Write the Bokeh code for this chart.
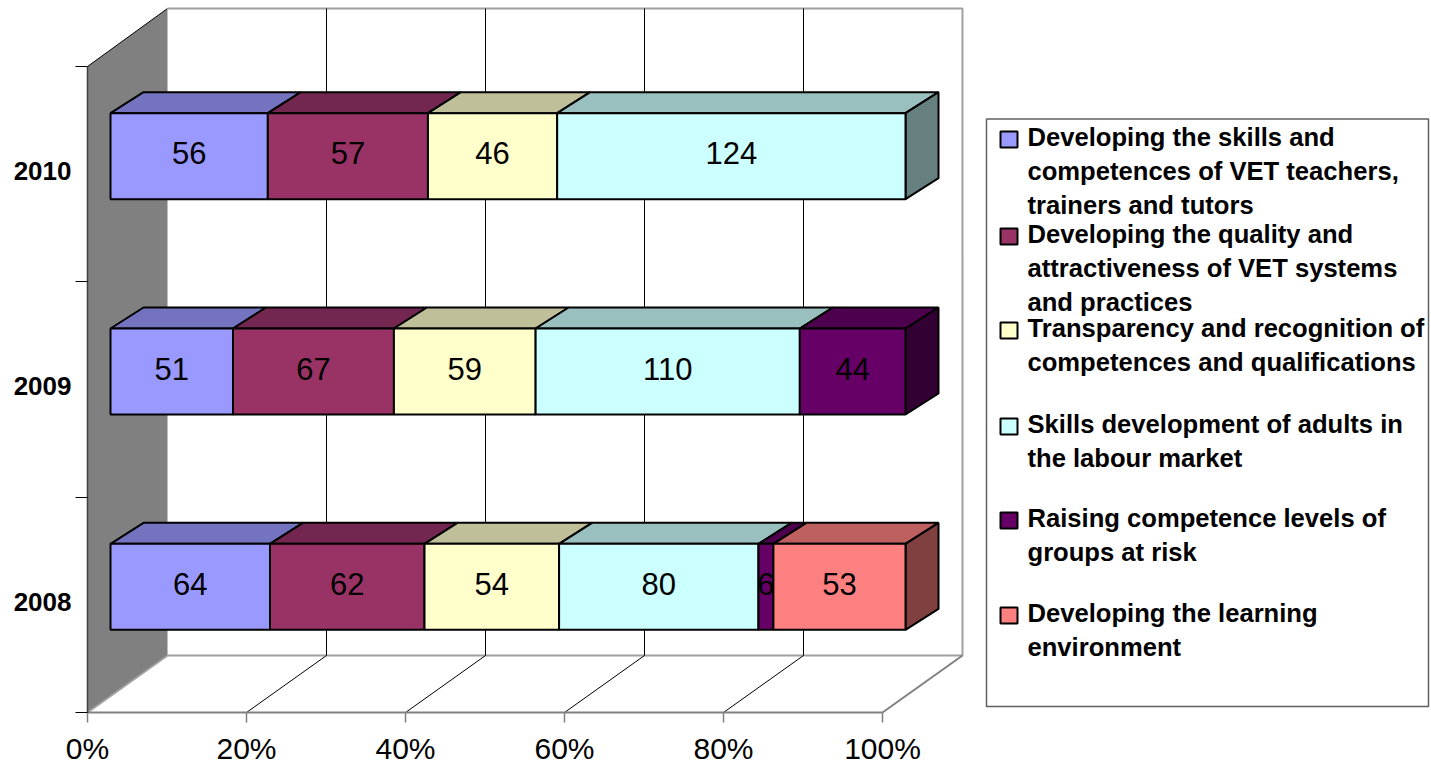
from bokeh.plotting import figure
from bokeh.models import FixedTicker, Range1d
from bokeh.core.properties import value
from bokeh.embed import file_html
from bokeh.resources import INLINE

years = ["2008", "2009", "2010"]
series = [
    "Developing the skills and competences of VET teachers, trainers and tutors",
    "Developing the quality and attractiveness of VET systems and practices",
    "Transparency and recognition of competences and qualifications",
    "Skills development of adults in the labour market",
    "Raising competence levels of groups at risk",
    "Developing the learning environment",
]
v2008 = [64, 62, 54, 80, 6, 53]
v2009 = [51, 67, 59, 110, 44, 0]
v2010 = [56, 57, 46, 124, 0, 0]
rows = [v2008, v2009, v2010]
colors = ["#9999FF", "#993366", "#FFFFCC", "#CCFFFF", "#660066", "#FF8080"]
top_colors = ["#7373BF", "#732650", "#BFBF99", "#99BFBF", "#4D004D", "#BF6060"]
side_colors = ["#4D4D80", "#4D1A33", "#808066", "#668080", "#330033", "#804040"]
legend_lines = [
    ["Developing the skills and", "competences of VET teachers,", "trainers and tutors"],
    ["Developing the quality and", "attractiveness of VET systems", "and practices"],
    ["Transparency and recognition of", "competences and qualifications"],
    ["Skills development of adults in", "the labour market"],
    ["Raising competence levels of", "groups at risk"],
    ["Developing the learning", "environment"],
]

# layout (picture pixels); the frame fills the whole figure, axes are pinned inside it
X0, Y0 = 87, 712          # origin of the axes
PX_PCT = 7.95             # pixels per percent
PX_ROW = 215.33           # pixels per category
FRAME_L, FRAME_R, FRAME_T, FRAME_B = 0, 1431, 0, 763
FONT = "Liberation Sans"


def px(x):
    return (x - X0) / PX_PCT


def py(y):
    return (Y0 - y) / PX_ROW


# 3D offsets expressed in axis units
WALL_DX, WALL_DY = 80 / PX_PCT, 57 / PX_ROW
BAR_DX, BAR_DY = 23 / PX_PCT, 18 / PX_ROW
DEPTH_DX, DEPTH_DY = 33 / PX_PCT, 21 / PX_ROW
BAR_H = 86 / PX_ROW
YMAX = 3
WALL_TOP = py(8)

p = figure(
    frame_width=FRAME_R - FRAME_L, frame_height=FRAME_B - FRAME_T,
    width=FRAME_R - FRAME_L, height=FRAME_B - FRAME_T,
    output_backend="svg", toolbar_location=None,
    x_range=Range1d(px(FRAME_L), px(FRAME_R)),
    y_range=Range1d(py(FRAME_B), py(FRAME_T)),
    min_border_left=0, min_border_right=0, min_border_top=0, min_border_bottom=0,
    outline_line_color=None, background_fill_color="white", border_fill_color="white",
)
p.xgrid.visible = False
p.ygrid.visible = False

# left wall
p.patch([0, WALL_DX, WALL_DX, 0], [0, WALL_DY, WALL_TOP, YMAX],
        fill_color="#808080", line_color=None)
p.line([0, WALL_DX], [YMAX, WALL_TOP], line_color="black", line_width=1)
# back wall and floor outline
p.line([0, WALL_DX, WALL_DX + 100, WALL_DX + 100, WALL_DX],
       [0, WALL_DY, WALL_DY, WALL_TOP, WALL_TOP],
       line_color="#A0A0A0", line_width=2)
p.line([100, 100 + WALL_DX], [0, WALL_DY], line_color="#808080", line_width=2)
# gridlines
for t in [20, 40, 60, 80]:
    p.line([t, t + WALL_DX, t + WALL_DX], [0, WALL_DY, WALL_TOP],
           line_color="black", line_width=1)

xa = p.xaxis[0]
xa.fixed_location = 0
xa.ticker = FixedTicker(ticks=[0, 20, 40, 60, 80, 100])
xa.major_label_overrides = {k: f"{k}%" for k in [0, 20, 40, 60, 80, 100]}
xa.bounds = (0, 100)
xa.axis_line_color = "#808080"
xa.axis_line_width = 2
xa.major_tick_line_color = "#808080"
xa.major_tick_line_width = 1.5
xa.major_tick_out = 10
xa.major_tick_in = 0
xa.minor_tick_out = 0
xa.minor_tick_in = 0
xa.major_label_text_font = FONT
xa.major_label_text_font_size = "30px"
xa.major_label_text_color = "black"
xa.major_label_standoff = 9

ya = p.yaxis[0]
ya.fixed_location = 0
label_ticks = [0.514, 1.514, 2.514]
ya.ticker = FixedTicker(ticks=label_ticks, minor_ticks=[0, 1, 2, 3])
ya.major_label_overrides = dict(zip(label_ticks, years))
ya.bounds = (0, YMAX)
ya.axis_line_color = "#404040"
ya.axis_line_width = 1.5
ya.major_tick_out = 0
ya.major_tick_in = 0
ya.minor_tick_out = 12
ya.minor_tick_in = 0
ya.minor_tick_line_color = "black"
ya.major_label_text_font = FONT
ya.major_label_text_font_style = "bold"
ya.major_label_text_font_size = "26px"
ya.major_label_text_color = "black"
ya.major_label_standoff = 4
ya.major_label_orientation = "horizontal"

# stacked 3D bars
LABEL_LIFT = 3 / PX_ROW
for r, vals in enumerate(rows):
    total = sum(vals)
    yb = r + 0.5 + BAR_DY - BAR_H / 2
    yt = yb + BAR_H
    cum = 0
    last = max(i for i, v in enumerate(vals) if v > 0)
    for i, v in enumerate(vals):
        if v == 0:
            continue
        a = BAR_DX + cum / total * 100
        cum += v
        b = BAR_DX + cum / total * 100
        p.patch([a, b, b + DEPTH_DX, a + DEPTH_DX], [yt, yt, yt + DEPTH_DY, yt + DEPTH_DY],
                fill_color=top_colors[i], line_color="black", line_width=2)
        if i == last:
            p.patch([b, b + DEPTH_DX, b + DEPTH_DX, b], [yb, yb + DEPTH_DY, yt + DEPTH_DY, yt],
                    fill_color=side_colors[i], line_color="black", line_width=2)
    cum = 0
    for i, v in enumerate(vals):
        if v == 0:
            continue
        a = BAR_DX + cum / total * 100
        cum += v
        b = BAR_DX + cum / total * 100
        p.quad(left=[a], right=[b], bottom=[yb], top=[yt],
               fill_color=colors[i], line_color="black", line_width=2)
    cum = 0
    for i, v in enumerate(vals):
        if v == 0:
            continue
        mid = BAR_DX + (cum + v / 2) / total * 100
        cum += v
        p.text([mid], [(yb + yt) / 2 + LABEL_LIFT], text=[str(v)], text_align="center", text_baseline="middle",
               text_font=value(FONT), text_font_size="31px", text_color="black")

# legend box, drawn by hand because its entries wrap over several lines
p.quad(left=[px(986)], right=[px(1428)], bottom=[py(706)], top=[py(118.5)],
       fill_color="white", line_color="#606060", line_width=1.5)
legend_first_y = [137, 234, 328, 424, 518, 613]
LINE_H = 34
for i, lines in enumerate(legend_lines):
    y0 = legend_first_y[i]
    p.quad(left=[px(1000)], right=[px(1017)], bottom=[py(y0 + 10)], top=[py(y0 - 6)],
           fill_color=colors[i], line_color="black", line_width=2)
    for k, t in enumerate(lines):
        p.text([px(1027)], [py(y0 - 1 + k * LINE_H)], text=[t], text_align="left", text_baseline="middle",
               text_font=value(FONT), text_font_style="bold", text_font_size="25.6px", text_color="black")

open("out.html", "w").write(file_html(p, INLINE))
